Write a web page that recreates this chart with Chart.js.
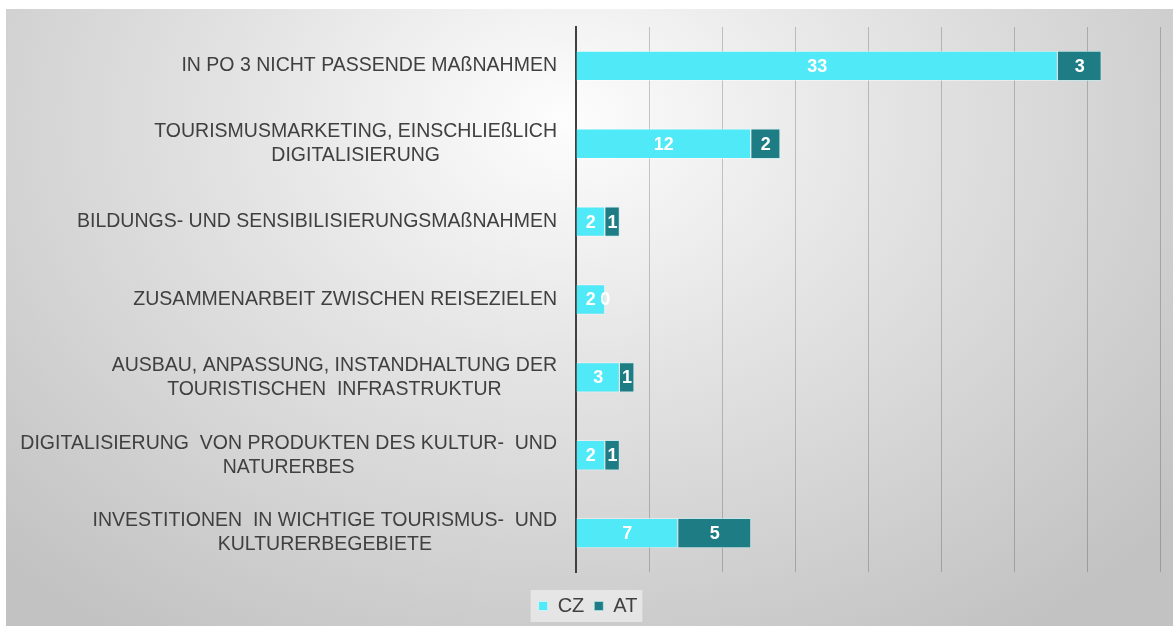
<!DOCTYPE html>
<html>
<head>
<meta charset="utf-8">
<script src="https://cdn.jsdelivr.net/npm/chart.js@4/dist/chart.umd.min.js"></script>
<style>
  html, body { margin: 0; padding: 0; background: #fff; }
  #wrap {
    position: absolute; left: 6px; top: 9px; width: 1167px; height: 617px;
    background: radial-gradient(ellipse 800px 620px at 48% 18%, #fdfdfd 0%, #e4e4e4 40%, #cdcdcd 80%, #c2c2c2 100%);
  }
</style>
</head>
<body>
<div id="wrap"><canvas id="chart" width="1167" height="617"></canvas></div>
<script>
const categories = [
    'IN PO 3 NICHT PASSENDE MAßNAHMEN',
    ['TOURISMUSMARKETING, EINSCHLIEßLICH', 'DIGITALISIERUNG'],
    'BILDUNGS- UND SENSIBILISIERUNGSMAßNAHMEN',
    'ZUSAMMENARBEIT ZWISCHEN REISEZIELEN',
    ['AUSBAU, ANPASSUNG, INSTANDHALTUNG DER', 'TOURISTISCHEN  INFRASTRUKTUR'],
    ['DIGITALISIERUNG  VON PRODUKTEN DES KULTUR-  UND', 'NATURERBES'],
    ['INVESTITIONEN  IN WICHTIGE TOURISMUS-  UND', 'KULTURERBEGEBIETE']
];
const czValues = [33, 12, 2, 2, 3, 2, 7];
const atValues = [3, 2, 1, 0, 1, 1, 5];

const FONT = "'Liberation Sans', Arial, sans-serif";

// category labels: block right-aligned to the axis, lines centred inside the block
const labelPlugin = {
    id: 'labelPlugin',
    afterDraw(chart) {
        const ctx = chart.ctx;
        const yScale = chart.scales.y;
        const rx = chart.chartArea.left - 19;
        ctx.save();
        ctx.font = '19.5px ' + FONT;
        ctx.fillStyle = '#404040';
        ctx.textAlign = 'center';
        ctx.textBaseline = 'middle';
        categories.forEach((lab, i) => {
            const lines = Array.isArray(lab) ? lab : [lab];
            const w = Math.max(...lines.map(l => ctx.measureText(l).width));
            const cx = rx - w / 2;
            const y = yScale.getPixelForValue(i);
            const lh = 24;
            lines.forEach((l, j) => {
                ctx.fillText(l, cx, y + (j - (lines.length - 1) / 2) * lh);
            });
        });
        ctx.restore();
    }
};

// values inside the bar segments
const valuePlugin = {
    id: 'valuePlugin',
    afterDatasetsDraw(chart) {
        const ctx = chart.ctx;
        ctx.save();
        ctx.font = 'bold 18px ' + FONT;
        ctx.fillStyle = '#ffffff';
        ctx.textAlign = 'center';
        ctx.textBaseline = 'middle';
        chart.data.datasets.forEach((ds, di) => {
            const meta = chart.getDatasetMeta(di);
            meta.data.forEach((bar, i) => {
                const p = bar.getProps(['x', 'y', 'base'], true);
                ctx.fillText(String(ds.data[i]), (p.x + p.base) / 2, p.y + 1);
            });
        });
        ctx.restore();
    }
};

// light box behind the legend
const legendBox = {
    id: 'legendBox',
    beforeDraw(chart) {
        const boxes = chart.legend && chart.legend.legendHitBoxes;
        if (!boxes || !boxes.length) return;
        const l = Math.min(...boxes.map(b => b.left)) - 8;
        const r = Math.max(...boxes.map(b => b.left + b.width)) + 5;
        const t = Math.min(...boxes.map(b => b.top)) - 6;
        const bt = Math.max(...boxes.map(b => b.top + b.height)) + 6;
        const ctx = chart.ctx;
        ctx.save();
        ctx.fillStyle = 'rgba(240,240,240,0.7)';
        ctx.fillRect(l, t, r - l, bt - t);
        ctx.restore();
    }
};

new Chart(document.getElementById('chart'), {
    type: 'bar',
    data: {
        labels: categories,
        datasets: [{
            label: 'CZ',
            data: czValues,
            backgroundColor: '#4fe9f8',
            borderColor: 'rgba(255,255,255,0.45)',
            borderWidth: 1,
            categoryPercentage: 1,
            barPercentage: 0.39
        }, {
            label: 'AT',
            data: atValues,
            backgroundColor: '#1e7d84',
            borderColor: 'rgba(190,240,245,0.6)',
            borderWidth: 1,
            categoryPercentage: 1,
            barPercentage: 0.39
        }]
    },
    options: {
        indexAxis: 'y',
        responsive: false,
        animation: false,
        layout: { padding: { top: 18, left: 10, right: 13, bottom: 0 } },
        plugins: {
            legend: {
                position: 'bottom',
                labels: {
                    boxWidth: 9,
                    boxHeight: 9,
                    padding: 10,
                    color: '#404040',
                    font: { family: FONT, size: 20 }
                }
            },
            tooltip: { enabled: false }
        },
        scales: {
            x: {
                stacked: true,
                min: 0,
                max: 40,
                ticks: { display: false, stepSize: 5 },
                grid: { color: 'rgba(0,0,0,0.2)', drawTicks: false },
                border: { display: false },
                afterFit(scale) { scale.height = 14; }
            },
            y: {
                stacked: true,
                ticks: { display: false },
                grid: { display: false },
                border: { display: true, color: '#404040', width: 2 },
                afterFit(scale) { scale.width = 560; }
            }
        }
    },
    plugins: [legendBox, labelPlugin, valuePlugin]
});
</script>
</body>
</html>
